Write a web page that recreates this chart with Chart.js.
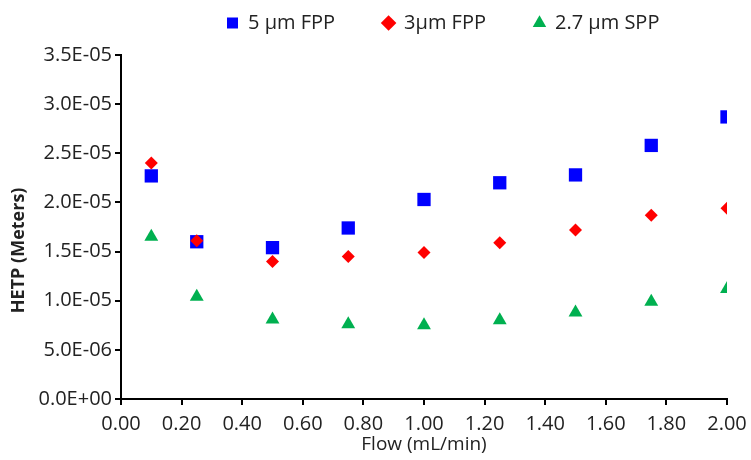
<!DOCTYPE html>
<html>
<head>
<meta charset="utf-8">
<script src="https://cdn.jsdelivr.net/npm/chart.js@4.4.1/dist/chart.umd.min.js"></script>
<style>
  html, body { margin: 0; padding: 0; background: #fff; }
  #wrap { width: 751px; height: 460px; position: relative; }
</style>
</head>
<body>
<div id="wrap"><canvas id="hetp-chart"></canvas></div>
<script>
// flow rates (mL/min)
const flows = [0.1, 0.25, 0.5, 0.75, 1.0, 1.25, 1.5, 1.75, 2.0];

// HETP (meters)
const fpp5 = [2.27e-5, 1.60e-5, 1.54e-5, 1.74e-5, 2.03e-5, 2.20e-5, 2.28e-5, 2.58e-5, 2.87e-5];
const fpp3 = [2.40e-5, 1.61e-5, 1.40e-5, 1.45e-5, 1.49e-5, 1.59e-5, 1.72e-5, 1.87e-5, 1.94e-5];
const spp27 = [1.65e-5, 1.04e-5, 8.1e-6, 7.6e-6, 7.5e-6, 8.0e-6, 8.8e-6, 9.9e-6, 1.12e-5];

const seriesNames = ['5 µm FPP', '3µm FPP', '2.7 µm SPP'];

const xTicks = [0, 0.2, 0.4, 0.6, 0.8, 1.0, 1.2, 1.4, 1.6, 1.8, 2.0];
const yTicks = [0, 5e-6, 1e-5, 1.5e-5, 2e-5, 2.5e-5, 3e-5, 3.5e-5];

const FONT = "'Open Sans', sans-serif";
const INK = '#222';
const LEGEND_PAD = 48;
const TOP_PAD = -35;

function sci(v) {
  if (Math.abs(v) < 1e-12) return '0.0E+00';
  const parts = v.toExponential(1).split('e');
  const n = parseInt(parts[1], 10);
  return parts[0] + 'E' + (n < 0 ? '-' : '+') + String(Math.abs(n)).padStart(2, '0');
}

const pts = (ys) => flows.map((x, i) => ({ x: x, y: ys[i] }));

// legend: fixed height so the plot starts at y=55, row starts at x=227
const legendNudge = {
  id: 'legendNudge',
  beforeInit(chart) {
    const fit = chart.legend.fit;
    chart.legend.fit = function () {
      fit.bind(chart.legend)();
      this.height = 55 - TOP_PAD;
      if (this.lineWidths && this.lineWidths.length) this.lineWidths[0] = LEGEND_PAD + 727 - 2 * 227;
    };
  }
};

const ctx = document.getElementById('hetp-chart').getContext('2d');
new Chart(ctx, {
  type: 'scatter',
  data: {
    datasets: [
      {
        label: seriesNames[0],
        data: pts(fpp5),
        pointStyle: 'rect',
        pointRadius: 9.4,
        pointHoverRadius: 9.4,
        backgroundColor: '#0000FF',
        borderColor: '#0000FF',
        borderWidth: 0,
        order: 3
      },
      {
        label: seriesNames[1],
        data: pts(fpp3),
        pointStyle: 'rectRot',
        pointRadius: 6.5,
        pointHoverRadius: 6.5,
        backgroundColor: '#FF0000',
        borderColor: '#FF0000',
        borderWidth: 0,
        order: 2
      },
      {
        label: seriesNames[2],
        data: pts(spp27),
        pointStyle: 'triangle',
        pointRadius: 8,
        pointHoverRadius: 8,
        backgroundColor: '#00B050',
        borderColor: '#00B050',
        borderWidth: 0,
        order: 1
      }
    ]
  },
  options: {
    responsive: true,
    maintainAspectRatio: false,
    animation: false,
    layout: { padding: { top: TOP_PAD, right: 24, bottom: 0, left: 0 } },
    plugins: {
      legend: {
        position: 'top',
        labels: {
          usePointStyle: true,
          boxWidth: 11,
          boxHeight: 11,
          padding: LEGEND_PAD,
          color: INK,
          font: { family: FONT, size: 20 },
          sort: (a, b) => a.datasetIndex - b.datasetIndex
        }
      },
      tooltip: { enabled: false }
    },
    scales: {
      x: {
        type: 'linear',
        min: 0,
        max: 2,
        afterBuildTicks: (scale) => { scale.ticks = xTicks.map(v => ({ value: v })); },
        afterFit: (scale) => {
          scale.height = 61;
          scale.paddingLeft = 0;
          scale.paddingRight = 0;
        },
        grid: { drawOnChartArea: false, drawTicks: true, tickLength: 6, color: '#000', lineWidth: 2 },
        border: { color: '#000', width: 2 },
        ticks: {
          color: INK,
          padding: 7,
          maxRotation: 0,
          font: { family: FONT, size: 20 },
          callback: (v) => Number(v).toFixed(2)
        },
        title: {
          display: true,
          text: 'Flow (mL/min)',
          color: INK,
          padding: { top: 0, bottom: 4 },
          font: { family: FONT, size: 19 }
        }
      },
      y: {
        type: 'linear',
        min: 0,
        max: 3.5e-5,
        afterBuildTicks: (scale) => { scale.ticks = yTicks.map(v => ({ value: v })); },
        afterFit: (scale) => { scale.width = 121; },
        grid: { drawOnChartArea: false, drawTicks: true, tickLength: 6, color: '#000', lineWidth: 2 },
        border: { color: '#000', width: 2 },
        ticks: {
          color: INK,
          padding: 3,
          font: { family: FONT, size: 20 },
          callback: (v) => sci(v)
        },
        title: {
          display: true,
          // trailing spaces drop the rotated title a little below the axis centre
          text: 'HETP (Meters)          ',
          color: INK,
          padding: { top: 8, bottom: 0 },
          font: { family: FONT, size: 18, weight: 'bold' }
        }
      }
    }
  },
  plugins: [legendNudge]
});
</script>
</body>
</html>
